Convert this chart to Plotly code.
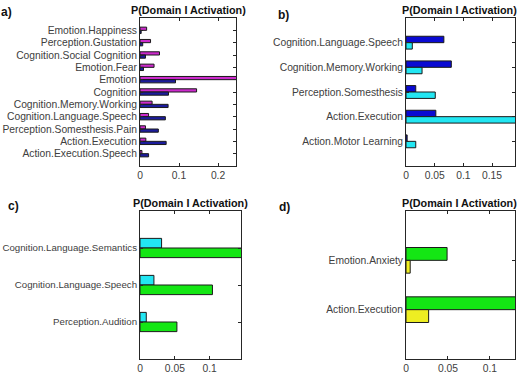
import plotly.graph_objects as go

W, H = 519, 378

# ---- data ----
a_cats = ["Emotion.Happiness", "Perception.Gustation", "Cognition.Social Cognition",
          "Emotion.Fear", "Emotion", "Cognition", "Cognition.Memory.Working",
          "Cognition.Language.Speech", "Perception.Somesthesis.Pain",
          "Action.Execution", "Action.Execution.Speech"]
a_top = [0.017, 0.027, 0.050, 0.036, 0.26, 0.145, 0.031, 0.022, 0.014, 0.015, 0.005]
a_bot = [0.003, 0.007, 0.014, 0.009, 0.091, 0.073, 0.072, 0.065, 0.047, 0.067, 0.022]

b_cats = ["Cognition.Language.Speech", "Cognition.Memory.Working",
          "Perception.Somesthesis", "Action.Execution", "Action.Motor Learning"]
b_top = [0.066, 0.079, 0.017, 0.052, 0.002]
b_bot = [0.011, 0.028, 0.051, 0.20, 0.017]

c_cats = ["Cognition.Language.Semantics", "Cognition.Language.Speech", "Perception.Audition"]
c_top = [0.031, 0.020, 0.009]
c_bot = [0.16, 0.104, 0.053]

d_cats = ["Emotion.Anxiety", "Action.Execution"]
d_top = [0.049, 0.14]
d_bot = [0.005, 0.027]

a_ticks = [0, 0.1, 0.2]
b_ticks = [0, 0.05, 0.1, 0.15]
c_ticks = [0, 0.05, 0.1]
d_ticks = [0, 0.05, 0.1]

title_text = "P(Domain I Activation)"

# ---- layout helpers (pixels) ----
panels = [
    ("a", a_cats, a_top, a_bot, ("#cc2acc", "#1c1c9c"), a_ticks, 0.246, (140, 236, 18, 166), (6, 12), 188, 10.3),
    ("b", b_cats, b_top, b_bot, ("#0a0ad2", "#22e6f2"), b_ticks, 0.190, (406, 515, 18, 166), (283, 15), 459.5, 10.3),
    ("c", c_cats, c_top, c_bot, ("#22e6f2", "#14e614"), c_ticks, 0.145, (140, 241, 211, 359), (13, 206), 190, 9.7),
    ("d", d_cats, d_top, d_bot, ("#14e614", "#eeee22"), d_ticks, 0.130, (406, 515, 211, 359), (284, 207), 459.5, 10.3),
]

fig = go.Figure()
font_fam = "Liberation Sans, Arial, sans-serif"
annotations = []

for i, (name, cats, top, bot, cols, ticks, xmax, box, lpos, tx, yfs) in enumerate(panels):
    idx = "" if i == 0 else str(i + 1)
    xa, ya = "x" + idx, "y" + idx
    for vals, col in ((top, cols[0]), (bot, cols[1])):
        fig.add_trace(go.Bar(
            x=vals, y=cats, orientation="h", xaxis=xa, yaxis=ya,
            marker=dict(color=col, line=dict(color="#1a1a1a", width=1)),
            showlegend=False, hoverinfo="x+y"))
    l, r, t, b = box
    n = len(cats)
    axis_common = dict(showline=True, linecolor="#262626", linewidth=1, mirror="ticks",
                       ticks="inside", ticklen=3, tickcolor="#262626",
                       showgrid=False, zeroline=False, automargin=False)
    fig.layout["xaxis" + idx] = dict(
        domain=[l / W, r / W], anchor=ya, range=[0, xmax],
        tickmode="array", tickvals=ticks, ticktext=[f"{v:g}" for v in ticks],
        tickfont=dict(family=font_fam, size=10.3, color="#404040"),
        **axis_common)
    fig.layout["yaxis" + idx] = dict(
        domain=[1 - b / H, 1 - t / H], anchor=xa, type="category",
        categoryorder="array", categoryarray=cats, range=[n, -1],
        tickmode="array", tickvals=cats, ticktext=cats,
        tickfont=dict(family=font_fam, size=yfs, color="#404040"),
        **axis_common)
    annotations.append(dict(
        text="<b>" + title_text + "</b>", xref="paper", yref="paper",
        x=tx / W, y=1 - (t - 8) / H, xanchor="center", yanchor="middle",
        showarrow=False, font=dict(family=font_fam, size=10.8, color="#111111")))
    annotations.append(dict(
        text="<b>" + name + ")</b>", xref="paper", yref="paper",
        x=lpos[0] / W, y=1 - lpos[1] / H, xanchor="center", yanchor="middle",
        showarrow=False, font=dict(family=font_fam, size=12, color="#111111")))

fig.update_layout(
    template="none",
    width=W, height=H, margin=dict(l=0, r=0, t=0, b=0),
    paper_bgcolor="white", plot_bgcolor="white",
    barmode="group", bargap=0.48, bargroupgap=0,
    annotations=annotations,
)

fig.write_html("out.html")
